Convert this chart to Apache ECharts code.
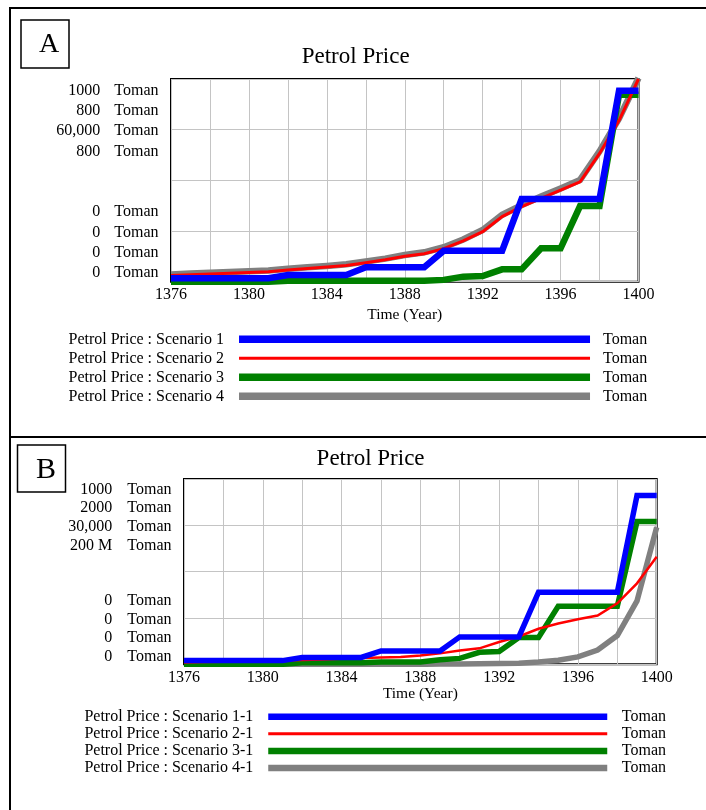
<!DOCTYPE html>
<html>
<head>
<meta charset="utf-8">
<script src="https://cdn.jsdelivr.net/npm/echarts@6/dist/echarts.min.js"></script>
<style>
html,body{margin:0;padding:0;background:#fff;}
#chart{width:706px;height:810px;}
</style>
</head>
<body>
<div id="chart"></div>
<script>
// ---------- data ----------
const years = [1376,1377,1378,1379,1380,1381,1382,1383,1384,1385,1386,1387,1388,1389,1390,1391,1392,1393,1394,1395,1396,1397,1398,1399,1400];
const xTickLabels = ['1376','1380','1384','1388','1392','1396','1400'];
const chartTitle = 'Petrol Price';
const xAxisName = 'Time (Year)';
const unitLabel = 'Toman';
const panelLetters = ['A', 'B'];

// Panel A
const namesA = ['Petrol Price : Scenario 1','Petrol Price : Scenario 2','Petrol Price : Scenario 3','Petrol Price : Scenario 4'];
const yTopLabelsA = ['1000','800','60,000','800'];
const yBottomLabelsA = ['0','0','0','0'];
const a_s1 = [1.7,1.7,1.7,1.7,1.7,1.7,3.3,3.3,3.3,3.3,7.1,7.1,7.1,7.1,15.3,15.3,15.3,15.3,40.8,40.8,40.8,40.8,40.8,94.2,94.2];
const a_s2 = [3.0,3.4,3.8,4.2,4.5,4.9,5.8,6.5,7.2,8.0,9.4,10.8,12.6,13.8,16.3,20.1,24.7,32.1,37.0,41.1,45.2,49.3,63.3,79.5,100];
const a_s3 = [0,0,0,0,0,0,0.5,0.5,0.5,0.5,0.5,0.5,0.5,0.5,0.9,2.5,2.8,6.1,6.1,16.5,16.5,37.3,37.3,92.2,92.2];
const a_s4 = [3.6,4.0,4.4,4.8,5.1,5.5,6.4,7.1,7.8,8.6,10.0,11.4,13.2,14.5,17.0,20.8,25.5,33.0,37.8,42.0,46.0,50.2,64.3,80.5,100.5];

// Panel B
const namesB = ['Petrol Price : Scenario 1-1','Petrol Price : Scenario 2-1','Petrol Price : Scenario 3-1','Petrol Price : Scenario 4-1'];
const yTopLabelsB = ['1000','2000','30,000','200 M'];
const yBottomLabelsB = ['0','0','0','0'];
const b_s1 = [2.0,2.0,2.0,2.0,2.0,2.0,3.7,3.7,3.7,3.7,7.2,7.2,7.2,7.2,14.8,14.8,14.8,14.8,38.9,38.9,38.9,38.9,38.9,91.1,91.1];
const b_s2 = [1.0,1.2,1.4,1.6,1.8,2.0,2.3,2.6,3.0,3.4,3.7,4.0,4.8,5.9,7.4,8.6,12.0,15.0,19.2,22.0,24.3,26.3,32.9,43.7,58.0];
const b_s3 = [0,0,0,0,0,0,0.8,0.8,0.8,0.8,1.2,1.2,1.2,2.4,3.2,6.5,6.9,14.5,14.5,31.3,31.3,31.3,31.3,77.0,77.0];
const b_s4 = [0,0,0,0,0,0,0,0,0,0,0,0,0,0.1,0.2,0.3,0.4,0.6,1.2,2.2,4.0,7.7,15.5,34.2,74.0];

const colors = ['#0000ff','#ff0000','#008000','#808080'];

// ---------- styling ----------
const FONT = "'Liberation Serif','Times New Roman',Times,serif";
const panels = [
  { names: namesA, series: [a_s1,a_s2,a_s3,a_s4], top: yTopLabelsA, bottom: yBottomLabelsA,
    grid: {left:171, top:79, width:467.5, height:202.7}, widths:[6.5,3,6.5,6.5], legendWidths:[7.5,3,7.5,7.5],
    nameGap: 25, labelGap: 14, titleLeft: 296.7, titleTop: 40.5,
    legend: {left:63.5, top:326.3, itemWidth:351, itemGap:3}, unitX: 603, rowY: 339.3, rowStep: 19,
    box: {x:21, y:20, w:48, h:48}, letterPos: [49, 45], letterSize: 28 },
  { names: namesB, series: [b_s1,b_s2,b_s3,b_s4], top: yTopLabelsB, bottom: yBottomLabelsB,
    grid: {left:184, top:479, width:472.7, height:185.3}, widths:[5.5,2.5,5.5,5.5], legendWidths:[6.5,3,6.5,6.5],
    nameGap: 22, labelGap: 15, titleLeft: 311.6, titleTop: 442,
    legend: {left:79.4, top:703.7, itemWidth:339, itemGap:1.1}, unitX: 621.8, rowY: 716.7, rowStep: 17.1,
    box: {x:17.5, y:445, w:48, h:47}, letterPos: [46, 470], letterSize: 30 }
];

const option = {
  animation: false,
  backgroundColor: '#fff',
  title: [], grid: [], xAxis: [], yAxis: [], series: [], legend: [], graphic: []
};

panels.forEach((p, pi) => {
  option.title.push({
    text: chartTitle, left: p.titleLeft, top: p.titleTop,
    textStyle: {fontFamily: FONT, fontSize: 23, fontWeight: 'normal', color: '#000'}
  });
  option.grid.push(Object.assign({show: true, borderColor: '#000', borderWidth: 2, backgroundColor: 'transparent', containLabel: false}, p.grid));
  option.xAxis.push({
    type: 'value', gridIndex: pi, min: 1376, max: 1400, interval: 2,
    name: xAxisName, nameLocation: 'middle', nameGap: p.nameGap,
    nameTextStyle: {fontFamily: FONT, fontSize: 15.5, color: '#000'},
    axisLine: {show: false}, axisTick: {show: false},
    axisLabel: {margin: 5, fontFamily: FONT, fontSize: 16, color: '#000',
      formatter: v => xTickLabels.includes(String(v)) ? String(v) : ''},
    splitLine: {show: true, lineStyle: {color: '#c4c4c4', width: 1}}
  });
  // value axis for data
  option.yAxis.push({
    type: 'value', gridIndex: pi, min: 0, max: 100, interval: 25,
    axisLine: {show: false}, axisTick: {show: false}, axisLabel: {show: false},
    splitLine: {show: true, lineStyle: {color: '#c4c4c4', width: 1}}
  });
  // category axis carrying the stacked Vensim-style scale labels
  const slots = p.bottom.concat(['', ''], p.top.slice().reverse());
  option.yAxis.push({
    type: 'category', gridIndex: pi, position: 'left', boundaryGap: true,
    data: slots.map((s, i) => 'slot' + i),
    axisLine: {show: false}, axisTick: {show: false}, splitLine: {show: false},
    axisLabel: {
      interval: 0, margin: 12.5, fontFamily: FONT, fontSize: 16, color: '#000',
      formatter: (v, idx) => slots[idx] ? '{n|' + slots[idx] + '}{u|' + unitLabel + '}' : '',
      rich: {
        n: {fontFamily: FONT, fontSize: 16, color: '#000', padding: [3, 0, 0, 0]},
        u: {fontFamily: FONT, fontSize: 16, color: '#000', padding: [3, 0, 0, p.labelGap]}
      }
    }
  });
  // series: drawn gray, green, red, blue (blue on top)
  [3, 2, 1, 0].forEach(si => {
    option.series.push({
      type: 'line', name: p.names[si], xAxisIndex: pi, yAxisIndex: pi * 2,
      data: years.map((y, k) => [y, p.series[si][k]]),
      symbol: 'none', showSymbol: false, smooth: false, clip: true,
      color: colors[si],
      lineStyle: {color: colors[si], width: p.widths[si], join: 'miter'}
    });
  });
  option.legend.push({
    orient: 'vertical', align: 'right', left: p.legend.left, top: p.legend.top,
    itemWidth: p.legend.itemWidth, itemHeight: 8, itemGap: p.legend.itemGap,
    selectedMode: false,
    textStyle: {fontFamily: FONT, fontSize: 16, color: '#000', lineHeight: 16, padding: [0, 10, 0, 0]},
    data: p.names.map((n, si) => ({
      name: n,
      lineStyle: {width: p.legendWidths[si], color: colors[si]},
      itemStyle: {color: 'rgba(0,0,0,0)', borderWidth: 0, opacity: 0}
    }))
  });
  p.names.forEach((n, si) => {
    option.graphic.push({
      type: 'text', silent: true,
      style: {text: unitLabel, x: p.unitX, y: p.rowY + si * p.rowStep, verticalAlign: 'middle', align: 'left',
        font: '16px ' + FONT, fill: '#000'}
    });
  });
  option.graphic.push({
    type: 'rect', silent: true,
    shape: {x: p.box.x, y: p.box.y, width: p.box.w, height: p.box.h},
    style: {fill: '#fff', stroke: '#000', lineWidth: 1.5}
  });
  option.graphic.push({
    type: 'text', silent: true,
    style: {text: panelLetters[pi], x: p.letterPos[0], y: p.letterPos[1], align: 'center', verticalAlign: 'middle',
      font: p.letterSize + 'px ' + FONT, fill: '#000'}
  });
});

// panel frames
option.graphic.push({type: 'line', silent: true, shape: {x1: 10, y1: 8, x2: 706, y2: 8}, style: {stroke: '#000', lineWidth: 2}});
option.graphic.push({type: 'line', silent: true, shape: {x1: 10, y1: 7, x2: 10, y2: 810}, style: {stroke: '#000', lineWidth: 2}});
option.graphic.push({type: 'line', silent: true, shape: {x1: 10, y1: 437, x2: 706, y2: 437}, style: {stroke: '#000', lineWidth: 2}});

const chart = echarts.init(document.getElementById('chart'), null, {renderer: 'canvas'});
chart.setOption(option);
</script>
</body>
</html>
